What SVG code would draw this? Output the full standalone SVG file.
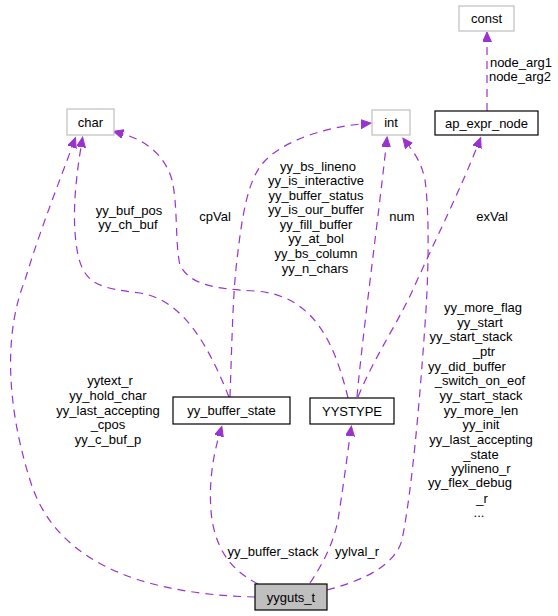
<svg xmlns="http://www.w3.org/2000/svg" width="558" height="616" viewBox="0 0 558 616">
<style>
text{font-family:"Liberation Sans",Arial,Helvetica,sans-serif;font-size:13px;fill:#000;text-anchor:middle}
.n{fill:#fff;stroke:#000;stroke-width:1.2}
.g{fill:#fff;stroke:#bfbfbf;stroke-width:1.2}
.root{fill:#bfbfbf;stroke:#000;stroke-width:1.2}
.e{fill:none;stroke:#9a32cd;stroke-width:1.2;stroke-dasharray:8,6;marker-end:url(#ah)}
</style>
<defs>
<marker id="ah" markerUnits="userSpaceOnUse" markerWidth="12" markerHeight="10" refX="0" refY="4.5" orient="auto">
<path d="M0,0 L10,4.5 L0,9 z" fill="#9a32cd" stroke="#9a32cd" stroke-width="1"/>
</marker>
</defs>
<g id="edges">
<path class="e" d="M255,597 C180,595 60,580 30,480 C5,400 5,330 25,280 C40,230 60,180 72,147"/>
<path class="e" d="M229,397 C210,350 185,300 140,293 C100,288 85,285 78,255 C72,225 74,190 81,147"/>
<path class="e" d="M348,398 C335,345 315,295 255,291 C215,289 190,285 180,265 C175,245 178,205 172,180 C165,155 145,140 123,134"/>
<path class="e" d="M230,397 C232,340 233,290 237,260 C242,215 248,180 263,163 C280,143 320,128 361,124"/>
<path class="e" d="M357,397 C362,340 378,220 386,147"/>
<path class="e" d="M327,590 C365,580 395,565 402,540 C412,490 420,400 426,310 C429,260 429,210 425,180 C422,165 416,155 409,146"/>
<path class="e" d="M358,397 C375,355 400,320 415,285 C440,230 460,190 477,147"/>
<path class="e" d="M487,111 L487,42"/>
<path class="e" d="M258,584 C235,572 218,555 212,520 C208,490 212,460 219,436"/>
<path class="e" d="M310,583 C322,565 333,545 338,520 C342,495 346,465 350,436"/>
</g>
<g id="edge-labels">
<text x="110" y="385">yytext_r</text>
<text x="108" y="400">yy_hold_char</text>
<text x="108" y="415">yy_last_accepting</text>
<text x="108" y="429">_cpos</text>
<text x="108" y="444">yy_c_buf_p</text>
<text x="129" y="215">yy_buf_pos</text>
<text x="128" y="229">yy_ch_buf</text>
<text x="215" y="221">cpVal</text>
<text x="318" y="171">yy_bs_lineno</text>
<text x="316" y="185">yy_is_interactive</text>
<text x="316" y="200">yy_buffer_status</text>
<text x="316" y="214">yy_is_our_buffer</text>
<text x="316" y="229">yy_fill_buffer</text>
<text x="316" y="243">yy_at_bol</text>
<text x="316" y="258">yy_bs_column</text>
<text x="315" y="273">yy_n_chars</text>
<text x="402" y="221">num</text>
<text x="492" y="221">exVal</text>
<text x="521" y="67">node_arg1</text>
<text x="520" y="81">node_arg2</text>
<text x="483" y="312">yy_more_flag</text>
<text x="480" y="327">yy_start</text>
<text x="471" y="341">yy_start_stack</text>
<text x="484" y="356">_ptr</text>
<text x="467" y="371">yy_did_buffer</text>
<text x="480" y="385">_switch_on_eof</text>
<text x="481" y="400">yy_start_stack</text>
<text x="481" y="415">yy_more_len</text>
<text x="481" y="429">yy_init</text>
<text x="481" y="444">yy_last_accepting</text>
<text x="481" y="459">_state</text>
<text x="481" y="473">yylineno_r</text>
<text x="470" y="487">yy_flex_debug</text>
<text x="482" y="503">_r</text>
<text x="479" y="517">...</text>
<text x="273" y="556">yy_buffer_stack</text>
<text x="357" y="556">yylval_r</text>
</g>
<g id="node-const"><rect class="g" x="459" y="6" width="55" height="25"/><text x="486.5" y="23">const</text></g>
<g id="node-ap_expr_node"><rect class="n" x="435" y="111" width="103" height="24"/><text x="486.5" y="128">ap_expr_node</text></g>
<g id="node-int"><rect class="g" x="372" y="110" width="38" height="25"/><text x="391" y="127">int</text></g>
<g id="node-char"><rect class="g" x="67" y="109" width="47" height="26"/><text x="90.5" y="127">char</text></g>
<g id="node-yy_buffer_state"><rect class="n" x="173" y="397" width="117" height="27"/><text x="231.5" y="415">yy_buffer_state</text></g>
<g id="node-YYSTYPE"><rect class="n" x="310" y="398" width="84" height="26"/><text x="352" y="416">YYSTYPE</text></g>
<g id="node-yyguts_t"><rect class="root" x="255" y="584" width="72" height="26"/><text x="291" y="602">yyguts_t</text></g>
</svg>
